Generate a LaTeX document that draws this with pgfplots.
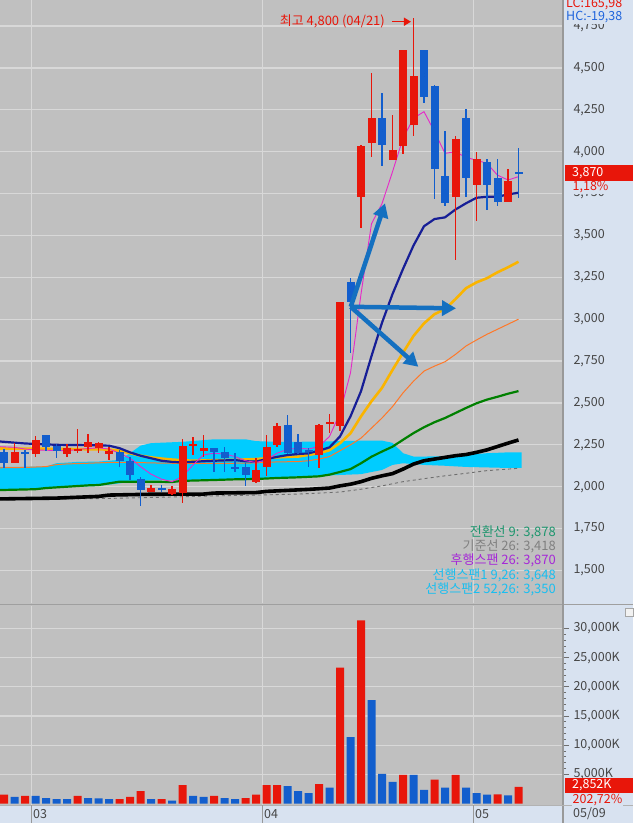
\documentclass[border=0pt]{standalone}
\usepackage{pgfplots}
\pgfplotsset{compat=1.18}
\usepackage{pgfplotstable}
\usepgfplotslibrary{fillbetween}
\usetikzlibrary{arrows.meta}
\usepackage{fontspec}
\setmainfont{Noto Sans CJK KR}
\definecolor{bgc}{RGB}{192,192,192}
\definecolor{gridc}{RGB}{216,216,216}
\definecolor{panelc}{RGB}{216,226,240}
\definecolor{candR}{RGB}{232,22,10}
\definecolor{candB}{RGB}{18,94,205}
\definecolor{navyc}{RGB}{22,30,150}
\definecolor{yelc}{RGB}{250,180,0}
\definecolor{orc}{RGB}{255,120,40}
\definecolor{grc}{RGB}{0,128,0}
\definecolor{cloudc}{RGB}{0,204,255}
\definecolor{magc}{RGB}{230,40,200}
\definecolor{dashc}{RGB}{110,110,110}
\definecolor{arrc}{RGB}{20,112,192}
\definecolor{tealc}{RGB}{30,150,110}
\definecolor{legg}{RGB}{128,128,128}
\definecolor{purc}{RGB}{165,40,215}
\definecolor{cyanc}{RGB}{25,190,240}
\definecolor{labc}{RGB}{70,70,70}
\definecolor{tickc}{RGB}{110,110,110}
\definecolor{hcc}{RGB}{30,100,220}

\pgfplotstableread{
i o h l c
1 2139 2259 2139 2209
3 2195 2303 2175 2279
6 2195 2255 2175 2229
7 2216 2342 2203 2228
8 2235 2315 2203 2265
9 2229 2269 2199 2259
10 2195 2239 2159 2215
14 1970 2010 1970 1990
16 1954 2004 1950 1984
17 1964 2283 1901 2245
18 2242 2295 2189 2254
19 2215 2309 2175 2229
24 2030 2170 2020 2100
25 2120 2309 2064 2239
26 2249 2382 2239 2362
30 2189 2374 2110 2368
31 2376 2434 2319 2388
32 2364 3101 2330 3101
34 3731 4040 3543 4034
35 4054 4472 3970 4199
37 3950 4219 3950 4010
38 4036 4607 3985 4607
39 4159 4800 4094 4454
43 3731 4094 3353 4074
45 3801 4000 3586 3955
48 3698 3895 3698 3825
}\redC

\pgfplotstableread{
i o h l c
0 2209 2223 2110 2139
2 2209 2219 2110 2195
4 2309 2309 2215 2239
5 2245 2255 2169 2215
11 2205 2219 2120 2153
12 2153 2179 2040 2070
13 2046 2060 1885 1980
15 1990 2010 1970 1978
20 2229 2229 2090 2209
21 2209 2239 2090 2169
22 2120 2199 2090 2106
23 2120 2140 2004 2070
27 2368 2428 2195 2199
28 2265 2315 2195 2199
29 2219 2229 2120 2207
33 3224 3244 2796 3101
36 4199 4349 3916 4042
40 4607 4607 4289 4325
41 4392 4398 3716 3895
42 3855 4124 3678 3692
44 4199 4255 3731 3841
46 3940 3955 3652 3801
47 3845 3955 3676 3698
49 3877 4020 3722 3866
}\blueC

\pgfplotstableread{
i v
0 1540
2 1310
7 1310
11 745
12 1140
13 2110
15 745
17 3140
20 1310
23 910
24 1540
25 3140
26 3150
30 3310
32 23320
34 31410
38 4900
41 4100
43 4900
47 1560
49 2852
}\volR

\pgfplotstableread{
i v
1 1140
3 1300
4 910
5 740
6 740
8 910
9 900
10 740
14 740
16 510
18 1310
19 1140
21 910
22 740
27 2960
28 2110
29 1770
31 2740
33 11400
35 17730
36 5070
37 3710
39 4890
40 2340
42 2740
44 2740
45 1770
46 1540
48 1407
}\volB

\pgfplotsset{
  candle/.style={only marks, mark=*, mark size=0pt, mark options={draw=none, fill=none}, forget plot,
    error bars/y dir=both, error bars/y explicit, error bars/error mark=none},
}

\begin{document}
\begin{tikzpicture}
% panel backgrounds outside the plot areas
\fill[panelc] (563pt,0pt) rectangle (633pt,823pt);
\fill[panelc] (0pt,0pt) rectangle (563pt,18pt);
\fill[bgc] (0pt,217pt) rectangle (563pt,220pt);

% ---------------- price panel ----------------
\begin{axis}[
  at={(0pt,220pt)}, anchor=south west,
  scale only axis, width=563pt, height=603pt,
  xmin=-0.381, xmax=53.238, ymin=1305.7, ymax=4905.7,
  axis background/.style={fill=bgc},
  axis line style={draw=none},
  xtick={2.619,24.619,44.714}, xticklabels={,,}, xmajorgrids,
  x tick label style={opacity=0},
  major x tick style={draw=none},
  ytick={1500,1750,...,4750}, ymajorgrids,
  ytick pos=right, yticklabel pos=right,
  minor y tick num=4,
  tick align=outside, major tick length=6pt, minor tick length=3pt,
  major y tick style={draw=tickc, line width=0.8pt},
  minor y tick style={draw=tickc, line width=0.8pt},
  grid style={draw=gridc, line width=1.2pt},
  scaled y ticks=false,
  /pgf/number format/1000 sep={,},
  /pgf/number format/assume math mode=true,
  yticklabel style={font=\fontsize{12.5}{13}\selectfont, text=labc, xshift=1pt},
  clip=true,
]
% cloud
\addplot[name path=cu, draw=none, forget plot] coordinates {(-0.4,2118)(4,2120)(5,2140)(7,2148)(9,2150)(11,2160)(12,2200)(13,2245)(14,2260)(17,2268)(20,2283)(23,2283)(24,2272)(26,2268)(28,2268)(30,2270)(32,2272)(34,2275)(36,2275)(37,2262)(38,2200)(39,2180)(40,2180)(42,2182)(44,2190)(46,2200)(48,2205)(49.3,2205)};
\addplot[name path=cl, draw=none, forget plot] coordinates {(-0.4,1985)(4,1990)(5,1995)(7,2000)(9,2005)(11,2020)(12,2030)(13,2035)(14,2038)(17,2040)(20,2045)(23,2050)(24,2052)(26,2055)(28,2060)(30,2065)(32,2070)(34,2075)(36,2100)(37,2130)(38,2140)(39,2135)(40,2130)(42,2125)(44,2118)(46,2115)(48,2112)(49.3,2112)};
\addplot[cloudc, forget plot] fill between[of=cu and cl];
% dashed grey
\addplot[dashc, line width=0.9pt, dashed, forget plot] coordinates {(-0.4,1922)(10,1930)(17,1940)(20,1945)(24,1950)(28,1956)(30,1962)(32,1968)(34,1985)(36,2005)(38,2030)(40,2048)(42,2065)(44,2080)(46,2096)(48,2105)(49,2110)};
% black
\addplot[black, line width=3.6pt, forget plot] coordinates {(-0.4,1927)(5,1932)(9,1942)(10,1950)(14,1955)(19,1956)(20,1962)(24,1965)(25,1972)(27,1978)(29,1984)(30,1988)(31,1992)(32,2005)(33,2015)(34,2030)(35,2050)(36,2065)(37,2078)(38,2105)(39,2135)(40,2155)(41,2165)(42,2175)(43,2185)(44,2192)(45,2205)(46,2220)(47,2240)(48,2260)(49,2279)};
% green
\addplot[grc, line width=2.2pt, forget plot] coordinates {(-0.4,1980)(3,1985)(4,1992)(6,2000)(8,2008)(9,2010)(11,2030)(14,2030)(16,2028)(17,2035)(20,2040)(22,2044)(24,2046)(26,2052)(28,2056)(30,2062)(31,2072)(32,2088)(33,2105)(34,2140)(35,2179)(36,2210)(37,2239)(38,2280)(39,2320)(40,2355)(41,2385)(42,2410)(43,2440)(44,2470)(45,2498)(46,2520)(47,2537)(48,2555)(49,2571)};
% orange thin
\addplot[orc, line width=1pt, forget plot] coordinates {(-0.4,2113)(2,2115)(4,2120)(5,2132)(6,2136)(8,2140)(10,2145)(12,2146)(14,2142)(16,2140)(18,2140)(20,2140)(22,2140)(24,2142)(26,2148)(28,2150)(29,2155)(30,2165)(31,2180)(32,2215)(33,2250)(34,2290)(35,2350)(36,2410)(37,2478)(38,2560)(39,2630)(40,2690)(41,2720)(42,2746)(43,2790)(44,2840)(45,2876)(46,2910)(47,2940)(48,2970)(49,3000)};
% yellow
\addplot[yelc, line width=2.6pt, forget plot] coordinates {(-0.4,2228)(5,2226)(10,2222)(11,2215)(12,2200)(13,2185)(14,2175)(15,2168)(16,2162)(17,2158)(18,2155)(20,2158)(22,2160)(24,2165)(25,2170)(26,2175)(27,2178)(28,2180)(29,2190)(30,2200)(31,2218)(32,2260)(33,2319)(34,2420)(35,2510)(36,2590)(37,2697)(38,2800)(39,2900)(40,2975)(41,3030)(42,3060)(43,3120)(44,3185)(45,3220)(46,3245)(47,3280)(48,3310)(49,3343)};
% navy
\addplot[navyc, line width=2.2pt, forget plot] coordinates {(-0.4,2270)(2,2258)(5,2250)(8,2248)(10,2245)(11,2230)(12,2205)(13,2185)(14,2170)(15,2155)(16,2148)(17,2145)(18,2149)(20,2155)(22,2159)(23,2152)(24,2150)(25,2165)(26,2178)(27,2189)(28,2195)(29,2199)(30,2215)(31,2235)(32,2300)(33,2420)(34,2570)(35,2780)(36,2979)(37,3150)(38,3300)(39,3440)(40,3555)(41,3598)(42,3608)(43,3655)(44,3692)(45,3725)(46,3731)(47,3731)(48,3745)(49,3755)};
% magenta thin
\addplot[magc, line width=0.9pt, forget plot] coordinates {(-0.4,2239)(1,2235)(2,2225)(3,2219)(6,2215)(7,2222)(8,2228)(9,2232)(10,2225)(11,2200)(12,2170)(13,2120)(14,2075)(15,2045)(16,2030)(17,2060)(18,2130)(19,2190)(20,2200)(21,2195)(22,2180)(23,2155)(24,2145)(25,2160)(26,2200)(27,2223)(28,2230)(29,2225)(30,2240)(31,2300)(32,2440)(33,2680)(34,3150)(35,3570)(36,3690)(37,3880)(38,4080)(39,4200)(40,4239)(41,4120)(42,3990)(43,4000)(44,3965)(45,3950)(46,3930)(47,3860)(48,3831)(49,3851)};
% candles: wicks
\addplot[candle, error bars/error bar style={draw=candR, line width=1.1pt}]
  table[x=i, y expr={(\thisrow{h}+\thisrow{l})/2}, y error expr={(\thisrow{h}-\thisrow{l})/2}] {\redC};
\addplot[candle, error bars/error bar style={draw=candB, line width=1.1pt}]
  table[x=i, y expr={(\thisrow{h}+\thisrow{l})/2}, y error expr={(\thisrow{h}-\thisrow{l})/2}] {\blueC};
% candles: bodies
\addplot[candle, error bars/error bar style={draw=candR, line width=8pt}]
  table[x=i, y expr={(\thisrow{o}+\thisrow{c})/2}, y error expr={abs(\thisrow{c}-\thisrow{o})/2}] {\redC};
\addplot[candle, error bars/error bar style={draw=candB, line width=8pt}]
  table[x=i, y expr={(\thisrow{o}+\thisrow{c})/2}, y error expr={abs(\thisrow{c}-\thisrow{o})/2}] {\blueC};
% annotation arrows
\draw[arrc, line width=4.5pt, -{Triangle[length=14pt,width=15pt]}] (axis cs:33.02,3074) -- (axis cs:36.29,3692);
\draw[arrc, line width=4.5pt, -{Triangle[length=14pt,width=15pt]}] (axis cs:33.02,3074) -- (axis cs:43.05,3065);
\draw[arrc, line width=4.5pt, -{Triangle[length=14pt,width=15pt]}] (axis cs:33.02,3074) -- (axis cs:39.46,2716);
% highest annotation
\node[anchor=east, text=candR, font=\fontsize{13}{14}\selectfont, inner sep=0pt] at (axis cs:36.29,4776) {최고 4,800 (04/21)};
\draw[candR, line width=1.4pt, -{Triangle[length=7pt,width=8pt]}] (axis cs:36.95,4776) -- (axis cs:38.76,4776);
\end{axis}

% ---------------- volume panel ----------------
\begin{axis}[
  at={(0pt,18pt)}, anchor=south west,
  scale only axis, width=563pt, height=199pt,
  xmin=-0.381, xmax=53.238, ymin=-257, ymax=33876,
  axis background/.style={fill=bgc},
  axis line style={draw=none},
  xtick={2.619,24.619,44.714}, xticklabels={,,}, xmajorgrids,
  x tick label style={opacity=0},
  major x tick style={draw=none},
  ytick={5000,10000,...,30000}, ymajorgrids,
  ytick pos=right, yticklabel pos=right,
  minor y tick num=4,
  tick align=outside, major tick length=6pt, minor tick length=3pt,
  major y tick style={draw=tickc, line width=0.8pt},
  minor y tick style={draw=tickc, line width=0.8pt},
  grid style={draw=gridc, line width=1.2pt},
  scaled y ticks=false,
  /pgf/number format/1000 sep={,},
  /pgf/number format/assume math mode=true,
  yticklabel={\pgfmathprintnumber{\tick}K},
  yticklabel style={font=\fontsize{12.5}{13}\selectfont, text=labc, xshift=1pt},
  clip=true,
]
\addplot[ybar, bar width=8pt, bar shift=0pt, fill=candR, draw=none, forget plot] table[x=i, y=v] {\volR};
\addplot[ybar, bar width=8pt, bar shift=0pt, fill=candB, draw=none, forget plot] table[x=i, y=v] {\volB};
\end{axis}

% frame lines
\draw[gray!75, line width=1.2pt] (0pt,218.5pt) -- (633pt,218.5pt);
\draw[gray!80, line width=1.3pt] (563pt,0pt) -- (563pt,823pt);
\draw[gray!60, line width=0.8pt] (0pt,18pt) -- (633pt,18pt);
% bottom date strip
\foreach \xx in {31.5,262.5,473.5}{\draw[gray!80, line width=0.8pt] (\xx pt,0pt) -- (\xx pt,18pt);}
\node[anchor=west, text=labc, font=\fontsize{12.5}{13}\selectfont, inner sep=0pt] at (33pt,9pt) {03};
\node[anchor=west, text=labc, font=\fontsize{12.5}{13}\selectfont, inner sep=0pt] at (264pt,9pt) {04};
\node[anchor=west, text=labc, font=\fontsize{12.5}{13}\selectfont, inner sep=0pt] at (475pt,9pt) {05};
\node[anchor=west, text=labc, font=\fontsize{12.5}{13}\selectfont, inner sep=0pt] at (573pt,9pt) {05/09};

% right side labels
\node[anchor=west, text=candR, font=\fontsize{12.5}{13}\selectfont, inner sep=0pt] at (566pt,819pt) {LC:165,98};
\node[anchor=west, text=hcc, fill=panelc, font=\fontsize{12.5}{13}\selectfont, inner sep=1pt] at (565pt,806pt) {HC:-19,38};
\fill[candR] (565pt,642pt) rectangle (633pt,657.5pt);
\node[anchor=west, text=white, font=\fontsize{12.5}{13}\selectfont, inner sep=0pt] at (572pt,649.5pt) {3,870};
\node[anchor=west, text=candR, fill=panelc, font=\fontsize{12.5}{13}\selectfont, inner sep=0.5pt] at (572pt,635.5pt) {1,18\%};
\fill[candR] (565pt,30pt) rectangle (633pt,45pt);
\node[anchor=west, text=white, font=\fontsize{12.5}{13}\selectfont, inner sep=0pt] at (572pt,37.5pt) {2,852K};
\node[anchor=west, text=candR, fill=panelc, font=\fontsize{12.5}{13}\selectfont, inner sep=0.5pt] at (572pt,23pt) {202,72\%};
\draw[gray!70, fill=white!90!gray] (625pt,207pt) rectangle (633pt,215pt);

% legend texts
\node[anchor=east, text=tealc, font=\fontsize{13}{14}\selectfont, inner sep=0pt] at (556pt,290.3pt) {전환선 9: 3,878};
\node[anchor=east, text=legg, font=\fontsize{13}{14}\selectfont, inner sep=0pt] at (556pt,276.3pt) {기준선 26: 3,418};
\node[anchor=east, text=purc, font=\fontsize{13}{14}\selectfont, inner sep=0pt] at (556pt,262.3pt) {후행스팬 26: 3,870};
\node[anchor=east, text=cyanc, font=\fontsize{13}{14}\selectfont, inner sep=0pt] at (556pt,248pt) {선행스팬1 9,26: 3,648};
\node[anchor=east, text=cyanc, font=\fontsize{13}{14}\selectfont, inner sep=0pt] at (556pt,234pt) {선행스팬2 52,26: 3,350};

\pgfresetboundingbox
\path[use as bounding box] (0pt,0pt) rectangle (633pt,823pt);
\end{tikzpicture}
\end{document}
